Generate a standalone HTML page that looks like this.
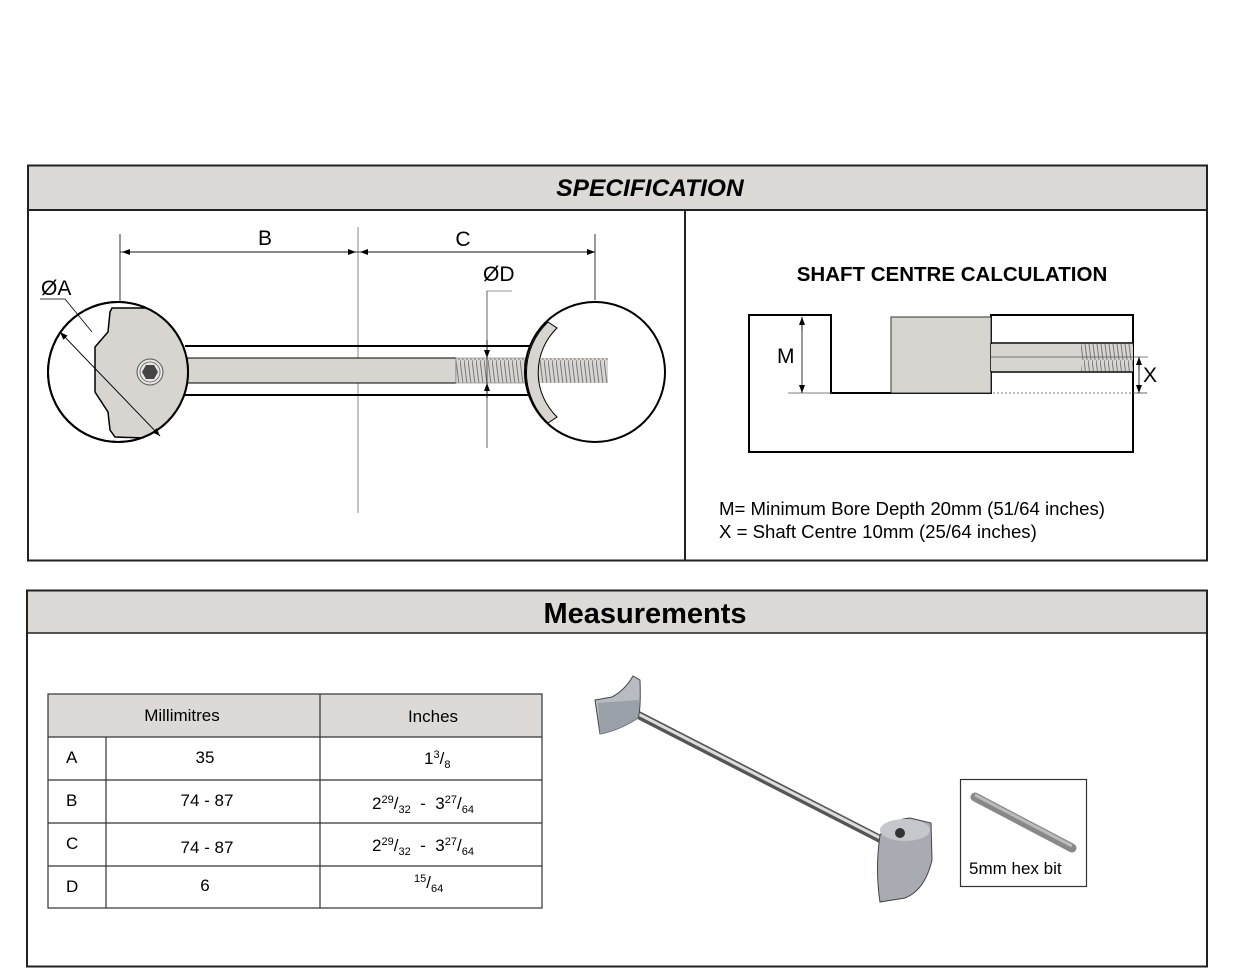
<!DOCTYPE html>
<html><head><meta charset="utf-8"><style>
html,body{margin:0;padding:0;background:#fff;}
svg{display:block;font-family:"Liberation Sans",sans-serif;}
</style></head><body>
<svg width="1241" height="973" viewBox="0 0 1241 973" xmlns="http://www.w3.org/2000/svg">
<defs>
<marker id="ar" markerWidth="8" markerHeight="6" refX="8" refY="3" orient="auto" markerUnits="userSpaceOnUse"><path d="M0,0 L8,3 L0,6 Z" fill="#000"/></marker>
<pattern id="thr" width="4" height="24" patternUnits="userSpaceOnUse"><rect width="4" height="24" fill="#d8d4d0"/><path d="M0,0 L3,24" stroke="#777" stroke-width="1"/></pattern>
<clipPath id="cl"><circle cx="118" cy="372" r="70"/></clipPath>
</defs>
<rect x="28" y="165.5" width="1179" height="395" fill="#fff" stroke="#222" stroke-width="2"/>
<rect x="29" y="166.5" width="1177" height="43" fill="#dcd9d6"/>
<line x1="28" y1="210" x2="1207" y2="210" stroke="#222" stroke-width="2"/>
<line x1="685" y1="210" x2="685" y2="561" stroke="#222" stroke-width="2"/>
<text x="650" y="196" font-size="24.5" font-weight="bold" font-style="italic" text-anchor="middle">SPECIFICATION</text>

<line x1="120" y1="234" x2="120" y2="302" stroke="#000" stroke-width="0.8"/>
<line x1="358" y1="227" x2="358" y2="513" stroke="#888" stroke-width="1"/>
<line x1="595" y1="234" x2="595" y2="300" stroke="#000" stroke-width="0.8"/>
<line x1="120" y1="252" x2="356" y2="252" stroke="#000" stroke-width="0.8" marker-end="url(#ar)"/>
<line x1="358" y1="252" x2="122" y2="252" stroke="#000" stroke-width="0.8" marker-end="url(#ar)"/>
<line x1="358" y1="252" x2="595" y2="252" stroke="#000" stroke-width="0.8" marker-end="url(#ar)"/>
<line x1="595" y1="252" x2="360" y2="252" stroke="#000" stroke-width="0.8" marker-end="url(#ar)"/>
<text x="265" y="245" font-size="21" text-anchor="middle">B</text>
<text x="463" y="246" font-size="21" text-anchor="middle">C</text>
<line x1="185" y1="346" x2="532" y2="346" stroke="#000" stroke-width="2"/>
<line x1="185" y1="395" x2="532" y2="395" stroke="#000" stroke-width="2"/>
<rect x="186" y="358" width="270" height="25" fill="#d8d4d0" stroke="#000" stroke-width="1"/>
<rect x="456" y="358" width="152" height="25" fill="url(#thr)" stroke="#999" stroke-width="0.8"/>
<circle cx="118" cy="372" r="70" fill="#fff" stroke="#000" stroke-width="2"/>
<polygon clip-path="url(#cl)" points="112,308 200,308 200,440 115,437 110,430 108,412 95,392 95,347 108,332 110,312" fill="#d8d4d0" stroke="#000" stroke-width="1.5"/>
<circle cx="118" cy="372" r="70" fill="none" stroke="#000" stroke-width="2"/>
<circle cx="150" cy="372" r="13" fill="#e8e6e4" stroke="#555" stroke-width="1"/>
<circle cx="150" cy="372" r="10" fill="none" stroke="#777" stroke-width="1"/>
<polygon points="158,372 154,379 146,379 142,372 146,365 154,365" fill="#444"/>
<line x1="60" y1="332" x2="160" y2="436" stroke="#000" stroke-width="0.8" marker-end="url(#ar)"/>
<line x1="160" y1="436" x2="60" y2="332" stroke="#000" stroke-width="0.8" marker-end="url(#ar)"/>
<line x1="40" y1="299" x2="65" y2="299" stroke="#000" stroke-width="0.8"/>
<line x1="65" y1="299" x2="92" y2="332" stroke="#000" stroke-width="0.8"/>
<text x="41" y="295" font-size="21">ØA</text>
<circle cx="595" cy="372" r="70" fill="#fff" stroke="#000" stroke-width="2"/>
<rect x="530" y="358" width="78" height="25" fill="url(#thr)"/>
<path d="M548,322 L557,328 A62,62 0 0,0 557,417 L548,423 A70,70 0 0,1 548,322 Z" fill="#d8d4d0" stroke="#000" stroke-width="1"/>
<text x="483" y="281" font-size="21">ØD</text>
<line x1="487" y1="291" x2="512" y2="291" stroke="#999" stroke-width="1"/>
<line x1="487" y1="291" x2="487" y2="448" stroke="#000" stroke-width="0.6"/>
<line x1="487" y1="340" x2="487" y2="358" stroke="#000" stroke-width="0.8" marker-end="url(#ar)"/>
<line x1="487" y1="398" x2="487" y2="383" stroke="#000" stroke-width="0.8" marker-end="url(#ar)"/>

<text x="952" y="281" font-size="20.5" font-weight="bold" text-anchor="middle">SHAFT CENTRE CALCULATION</text>
<path d="M749,315 H831 V393 H991 V315 H1133 V452 H749 Z" fill="#fff" stroke="#000" stroke-width="2"/>
<rect x="891" y="317" width="100" height="76" fill="#d8d4d0" stroke="#333" stroke-width="1"/>
<rect x="991" y="343" width="142" height="29" fill="#fff"/>
<line x1="991" y1="343" x2="1133" y2="343" stroke="#000" stroke-width="1.5"/>
<line x1="991" y1="372" x2="1133" y2="372" stroke="#000" stroke-width="1.5"/>
<line x1="991" y1="343" x2="991" y2="372" stroke="#000" stroke-width="1.5"/>
<rect x="991" y="344" width="90" height="27" fill="#d8d4d0"/>
<rect x="1081" y="344" width="52" height="27" fill="url(#thr)"/>
<line x1="991" y1="357" x2="1148" y2="357" stroke="#555" stroke-width="0.8"/>
<line x1="993" y1="393" x2="1147" y2="393" stroke="#555" stroke-width="0.8" stroke-dasharray="2,2"/>
<line x1="1133" y1="393" x2="1147" y2="393" stroke="#555" stroke-width="0.8"/>
<line x1="788" y1="393" x2="832" y2="393" stroke="#555" stroke-width="0.8"/>
<line x1="802" y1="330" x2="802" y2="317" stroke="#000" stroke-width="0.8" marker-end="url(#ar)"/>
<line x1="802" y1="317" x2="802" y2="393" stroke="#000" stroke-width="0.8" marker-end="url(#ar)"/>
<line x1="1139" y1="370" x2="1139" y2="357" stroke="#000" stroke-width="0.8" marker-end="url(#ar)"/>
<line x1="1139" y1="357" x2="1139" y2="393" stroke="#000" stroke-width="0.8" marker-end="url(#ar)"/>
<text x="777" y="363" font-size="21">M</text>
<text x="1143" y="382" font-size="21">X</text>
<text x="719" y="515" font-size="18.6">M= Minimum Bore Depth 20mm (51/64 inches)</text>
<text x="719" y="538" font-size="18.6">X = Shaft Centre 10mm (25/64 inches)</text>

<rect x="27" y="590.5" width="1180" height="376" fill="#fff" stroke="#222" stroke-width="2"/>
<rect x="28" y="591.5" width="1178" height="41" fill="#dcd9d6"/>
<line x1="27" y1="633" x2="1207" y2="633" stroke="#222" stroke-width="1.5"/>
<text x="645" y="623" font-size="29" font-weight="bold" text-anchor="middle">Measurements</text>

<rect x="48" y="694" width="494" height="43" fill="#dcd9d6"/>
<g stroke="#333" stroke-width="1.2" fill="none">
<rect x="48" y="694" width="494" height="214"/>
<line x1="48" y1="737" x2="542" y2="737"/>
<line x1="48" y1="780" x2="542" y2="780"/>
<line x1="48" y1="823" x2="542" y2="823"/>
<line x1="48" y1="866" x2="542" y2="866"/>
<line x1="320" y1="694" x2="320" y2="908"/>
<line x1="106" y1="737" x2="106" y2="908"/>
</g>
<g font-size="17">
<text x="182" y="721" text-anchor="middle">Millimitres</text>
<text x="433" y="722" text-anchor="middle">Inches</text>
<text x="66" y="763">A</text><text x="205" y="763" text-anchor="middle">35</text>
<text x="66" y="806">B</text><text x="207" y="806" text-anchor="middle">74 - 87</text>
<text x="66" y="849">C</text><text x="207" y="853" text-anchor="middle">74 - 87</text>
<text x="66" y="892">D</text><text x="205" y="891" text-anchor="middle">6</text>
<text x="424" y="764">1<tspan font-size="11" dy="-6">3</tspan><tspan dy="6">/</tspan><tspan font-size="11" dy="4">8</tspan></text>
<text x="372" y="809">2<tspan font-size="11" dy="-6">29</tspan><tspan dy="6">/</tspan><tspan font-size="11" dy="4">32</tspan><tspan dy="-4">&#160;&#160;-&#160;&#160;3</tspan><tspan font-size="11" dy="-6">27</tspan><tspan dy="6">/</tspan><tspan font-size="11" dy="4">64</tspan></text>
<text x="372" y="851">2<tspan font-size="11" dy="-6">29</tspan><tspan dy="6">/</tspan><tspan font-size="11" dy="4">32</tspan><tspan dy="-4">&#160;&#160;-&#160;&#160;3</tspan><tspan font-size="11" dy="-6">27</tspan><tspan dy="6">/</tspan><tspan font-size="11" dy="4">64</tspan></text>
<text x="414" y="888"><tspan font-size="11" dy="-6">15</tspan><tspan dy="6">/</tspan><tspan font-size="11" dy="4">64</tspan></text>
</g>

<g>
<line x1="615" y1="703" x2="888" y2="843" stroke="#555" stroke-width="8" stroke-linecap="round"/>
<line x1="615" y1="702" x2="888" y2="842" stroke="#ddd" stroke-width="3"/>
<path d="M595,700 L612,697 Q625,690 633,676 L640,680 Q641,710 638,718 Q620,730 600,734 Z" fill="#b8bcc2" stroke="#444" stroke-width="1"/>
<path d="M598,703 L640,700 L638,718 Q620,730 600,734 Z" fill="#9aa0a8"/>
<path d="M880,835 Q890,820 910,818 L931,823 L932,860 Q925,890 905,898 L880,902 Q875,870 880,835 Z" fill="#a8acb2" stroke="#444" stroke-width="1"/>
<ellipse cx="905" cy="830" rx="25" ry="11" fill="#c4c8cc"/>
<circle cx="900" cy="833" r="5" fill="#333"/>
</g>
<rect x="960.5" y="779.5" width="126" height="107" fill="#fff" stroke="#333" stroke-width="1.2"/>
<line x1="975" y1="797" x2="1072" y2="848" stroke="#888" stroke-width="9" stroke-linecap="round"/>
<line x1="975" y1="795" x2="1072" y2="846" stroke="#bbb" stroke-width="3"/>
<text x="969" y="874" font-size="17">5mm hex bit</text>
</svg>
</body></html>
